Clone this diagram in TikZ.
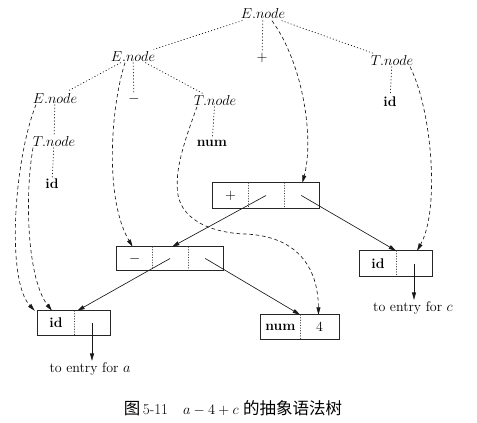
\documentclass[tikz,border=0pt]{standalone}
\usepackage{fontspec}
\newfontfamily\cjk{Noto Sans CJK SC}
\usetikzlibrary{arrows.meta,calc}
\begin{document}
\begin{tikzpicture}[x=1pt,y=-1pt,
  lab/.style={font=\fontsize{14}{16}\selectfont, inner sep=1.5pt},
  tedge/.style={line width=0.75pt, dash pattern=on 0.6pt off 2.6pt, line cap=round, black!90},
  dedge/.style={line width=0.65pt, dash pattern=on 3.6pt off 2.8pt, black!90, -{Triangle[length=7.5pt,width=4pt]}},
  sedge/.style={line width=0.65pt, black!90, -{Triangle[length=7.5pt,width=4pt]}},
  cell/.style={inner sep=0pt, font=\fontsize{14}{16}\selectfont},
  boxline/.style={line width=0.75pt, black!85},
  divider/.style={line width=0.6pt, dash pattern=on 0.6pt off 2pt, line cap=round, black!75}
]
\useasboundingbox (0,0) rectangle (477,423);

% parse-tree labels
\node[lab] (E0) at (263,14) {$E.node$};
\node[lab] (E1) at (133,56) {$E.node$};
\node[lab] (plus) at (262,58) {$+$};
\node[lab] (T1) at (392,60) {$T.node$};
\node[lab] (id1) at (390,102) {\textbf{id}};
\node[lab] (E2) at (55,98) {$E.node$};
\node[lab] (minus) at (134,99) {$-$};
\node[lab] (T2) at (215,100) {$T.node$};
\node[lab] (num1) at (212,143) {\textbf{num}};
\node[lab] (T3) at (54,141) {$T.node$};
\node[lab] (id2) at (52,184) {\textbf{id}};

% dotted tree edges
\draw[tedge] (E0) -- (E1);
\draw[tedge] (E0) -- (plus);
\draw[tedge] (E0) -- (T1);
\draw[tedge] (T1) -- (id1);
\draw[tedge] (E1) -- (E2);
\draw[tedge] (E1) -- (minus);
\draw[tedge] (E1) -- (T2);
\draw[tedge] (T2) -- (num1);
\draw[tedge] (E2) -- (T3);
\draw[tedge] (T3) -- (id2);

% plus record
\node[cell, minimum width=35.33pt, minimum height=25pt] (Pa) at (230.67,195.5) {$+$};
\node[cell, minimum width=35.33pt, minimum height=25pt] (Pb) at (266,195.5) {};
\node[cell, minimum width=35.33pt, minimum height=25pt] (Pc) at (301.33,195.5) {};
\draw[boxline] (Pa.north west) rectangle (Pc.south east);
\draw[divider] (Pa.north east) -- (Pa.south east);
\draw[divider] (Pb.north east) -- (Pb.south east);

% minus record
\node[cell, minimum width=35.33pt, minimum height=23pt] (Ma) at (134.67,258.5) {$-$};
\node[cell, minimum width=35.33pt, minimum height=23pt] (Mb) at (170,258.5) {};
\node[cell, minimum width=35.33pt, minimum height=23pt] (Mc) at (205.33,258.5) {};
\draw[boxline] (Ma.north west) rectangle (Mc.south east);
\draw[divider] (Ma.north east) -- (Ma.south east);
\draw[divider] (Mb.north east) -- (Mb.south east);

% id record (a)
\node[cell, minimum width=36pt, minimum height=24pt] (ILa) at (56,323) {\textbf{id}};
\node[cell, minimum width=36pt, minimum height=24pt] (ILb) at (92,323) {};
\draw[boxline] (ILa.north west) rectangle (ILb.south east);
\draw[divider] (ILa.north east) -- (ILa.south east);

% num record
\node[cell, minimum width=39pt, minimum height=24pt] (Na) at (280.5,327) {\textbf{num}};
\node[cell, minimum width=39pt, minimum height=24pt] (Nb) at (319.5,327) {4};
\draw[boxline] (Na.north west) rectangle (Nb.south east);
\draw[divider] (Na.north east) -- (Na.south east);

% id record (c)
\node[cell, minimum width=36pt, minimum height=25pt] (IRa) at (378,263.5) {\textbf{id}};
\node[cell, minimum width=36pt, minimum height=25pt] (IRb) at (414,263.5) {};
\draw[boxline] (IRa.north west) rectangle (IRb.south east);
\draw[divider] (IRa.north east) -- (IRa.south east);

% entry labels
\node[lab] (ta) at (90,369) {to entry for $a$};
\node[lab] (tc) at (413,308) {to entry for $c$};
\draw[sedge] (ILb.center) -- (ILb.center |- ta.north);
\draw[sedge] (IRb.center) -- (IRb.center |- tc.north);

% solid pointers
\draw[sedge] (Pb.center) -- ([xshift=2pt]Mb.north);
\draw[sedge] (Pc.center) -- (IRa.north east);
\draw[sedge] (Mb.center) -- ([xshift=3pt]ILa.north east);
\draw[sedge] (Mc.center) -- (Na.north east);

% dashed node pointers
\draw[dedge] ([xshift=9pt]E0.south) .. controls (304,65) and (314,140) .. ([xshift=1pt]Pc.north);
\draw[dedge] ([xshift=18pt]T1.south) .. controls (432,110) and (440,210) .. ([xshift=3pt]IRb.north);
\draw[dedge] ([xshift=-8pt]E1.south) .. controls (110,110) and (105,200) .. ([xshift=-2pt]Ma.north);
\draw[dedge] ([xshift=-18pt]T2.south) .. controls (185,140) and (174,170) .. (178,195)
   .. controls (183,222) and (215,233) .. (245,234)
   .. controls (295,236) and (318,265) .. ([xshift=-1pt]Nb.north);
\draw[dedge] ([xshift=-19pt]E2.south) .. controls (14,160) and (6,280) .. ([xshift=-3pt]ILa.north west);
\draw[dedge] ([xshift=-21pt]T3.south) .. controls (24,200) and (28,280) .. ([xshift=-4pt]ILa.north);

% caption
\node (cap) at (233,408) {\fontsize{15}{17}\selectfont{\cjk\fontsize{16.5}{18}\selectfont 图}\,5-11\quad $a-4+c$\ {\cjk\fontsize{16.5}{18}\selectfont 的抽象语法树}};
\end{tikzpicture}
\end{document}
